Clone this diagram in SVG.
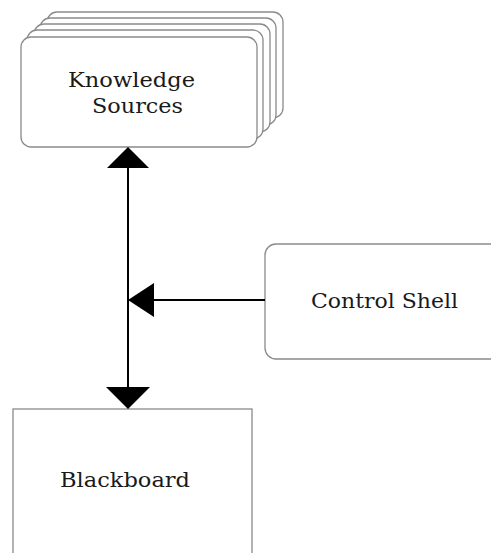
<svg xmlns="http://www.w3.org/2000/svg" width="491" height="553" viewBox="0 0 491 553">
  <style>
    .box { fill: #ffffff; stroke: #8a8a8a; stroke-width: 1.3; }
    .label { font-family: "DejaVu Serif", "Liberation Serif", serif; font-size: 20px; fill: #1a1a1a; }
    .wire { stroke: #000000; stroke-width: 2; fill: none; }
    .head { fill: #000000; }
  </style>
  <rect width="491" height="553" fill="#ffffff"/>

  <!-- Knowledge Sources: stacked cards -->
  <g id="knowledge-sources">
    <rect class="box" x="47" y="12" width="236" height="106" rx="10"/>
    <rect class="box" x="40" y="18" width="236" height="107" rx="10"/>
    <rect class="box" x="34" y="24" width="236" height="108" rx="10"/>
    <rect class="box" x="27" y="30" width="236" height="109" rx="10"/>
    <rect class="box" x="21" y="37" width="236" height="110" rx="10"/>
    <text class="label" x="68" y="87" textLength="127" lengthAdjust="spacingAndGlyphs">Knowledge</text>
    <text class="label" x="92" y="113" textLength="91" lengthAdjust="spacingAndGlyphs">Sources</text>
  </g>

  <!-- Control Shell -->
  <g id="control-shell">
    <rect class="box" x="265" y="244" width="240" height="115" rx="11"/>
    <text class="label" x="311" y="308" textLength="147" lengthAdjust="spacingAndGlyphs">Control Shell</text>
  </g>

  <!-- Blackboard -->
  <g id="blackboard">
    <rect class="box" x="13" y="409" width="239" height="160"/>
    <text class="label" x="60" y="487" textLength="130" lengthAdjust="spacingAndGlyphs">Blackboard</text>
  </g>

  <!-- Connectors -->
  <g id="connectors">
    <line class="wire" x1="128" y1="160" x2="128" y2="395"/>
    <polygon class="head" points="128,147 107,168 149,168"/>
    <polygon class="head" points="128,409 106,387 150,387"/>
    <line class="wire" x1="150" y1="300" x2="265" y2="300"/>
    <polygon class="head" points="128,300 154,283 154,317"/>
  </g>
</svg>
